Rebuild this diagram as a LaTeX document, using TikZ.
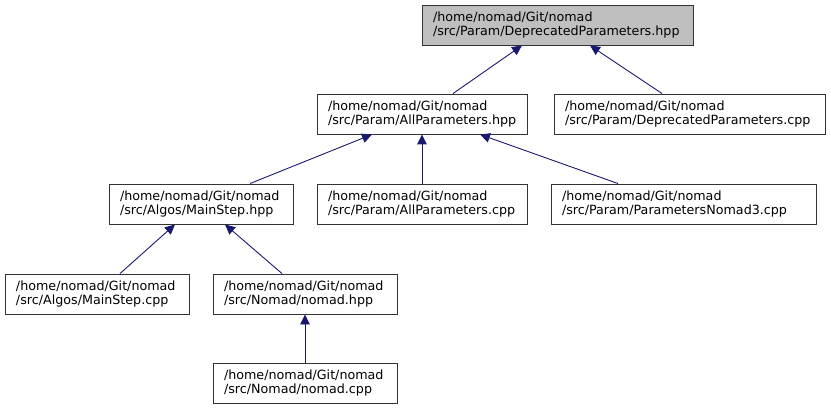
\documentclass[tikz,border=0pt]{standalone}
\usepackage{fontspec}
\setmainfont{DejaVu Sans}
\usetikzlibrary{arrows.meta}
\definecolor{edgeblue}{HTML}{191970}
\definecolor{boxline}{HTML}{333333}
\definecolor{topfill}{HTML}{BFBFBF}
\tikzset{
  filebox/.style={draw=boxline, line width=0.9pt, fill=white, align=left,
    inner xsep=0pt, inner ysep=0pt, minimum height=40pt,
    font=\fontsize{12.7}{14.5}\selectfont, anchor=center},
  arr/.style={draw=edgeblue, line width=0.9pt,
    {Triangle[length=10pt,width=9.5pt,fill=edgeblue]}-}
}
\newcommand{\fbtext}[3]{\parbox{#1pt}{\hspace*{11pt}#2\\\hspace*{11pt}#3}}
\begin{document}
\begin{tikzpicture}[x=1pt,y=-1pt]
\useasboundingbox (0,0) rectangle (831,409);
\node[filebox, fill=topfill, minimum width=271pt] (dph) at (557.5,25) {\fbtext{271}{/home/nomad/Git/nomad}{/src/Param/DeprecatedParameters.hpp}};
\node[filebox, minimum width=210pt] (aph) at (422,114) {\fbtext{210}{/home/nomad/Git/nomad}{/src/Param/AllParameters.hpp}};
\node[filebox, minimum width=271pt] (dpc) at (689.5,114) {\fbtext{271}{/home/nomad/Git/nomad}{/src/Param/DeprecatedParameters.cpp}};
\node[filebox, minimum width=184pt] (msh) at (201,204) {\fbtext{184}{/home/nomad/Git/nomad}{/src/Algos/MainStep.hpp}};
\node[filebox, minimum width=210pt] (apc) at (422,204) {\fbtext{210}{/home/nomad/Git/nomad}{/src/Param/AllParameters.cpp}};
\node[filebox, minimum width=265pt] (pn3) at (683.5,204) {\fbtext{265}{/home/nomad/Git/nomad}{/src/Param/ParametersNomad3.cpp}};
\node[filebox, minimum width=184pt] (msc) at (97,294) {\fbtext{184}{/home/nomad/Git/nomad}{/src/Algos/MainStep.cpp}};
\node[filebox, minimum width=184pt] (nh) at (305,294) {\fbtext{184}{/home/nomad/Git/nomad}{/src/Nomad/nomad.hpp}};
\node[filebox, minimum width=184pt] (nc) at (305,383) {\fbtext{184}{/home/nomad/Git/nomad}{/src/Nomad/nomad.cpp}};
\draw[arr] ([xshift=-35.5pt]dph.south) -- ([xshift=31pt]aph.north);
\draw[arr] ([xshift=32.5pt]dph.south) -- ([xshift=-27.5pt]dpc.north);
\draw[arr] ([xshift=-50pt]aph.south) -- ([xshift=49pt]msh.north);
\draw[arr] (aph.south) -- (apc.north);
\draw[arr] ([xshift=58pt]aph.south) -- ([xshift=-65.5pt]pn3.north);
\draw[arr] ([xshift=-26pt]msh.south) -- ([xshift=23pt]msc.north);
\draw[arr] ([xshift=24pt]msh.south) -- ([xshift=-23pt]nh.north);
\draw[arr] (nh.south) -- (nc.north);
\end{tikzpicture}
\end{document}
